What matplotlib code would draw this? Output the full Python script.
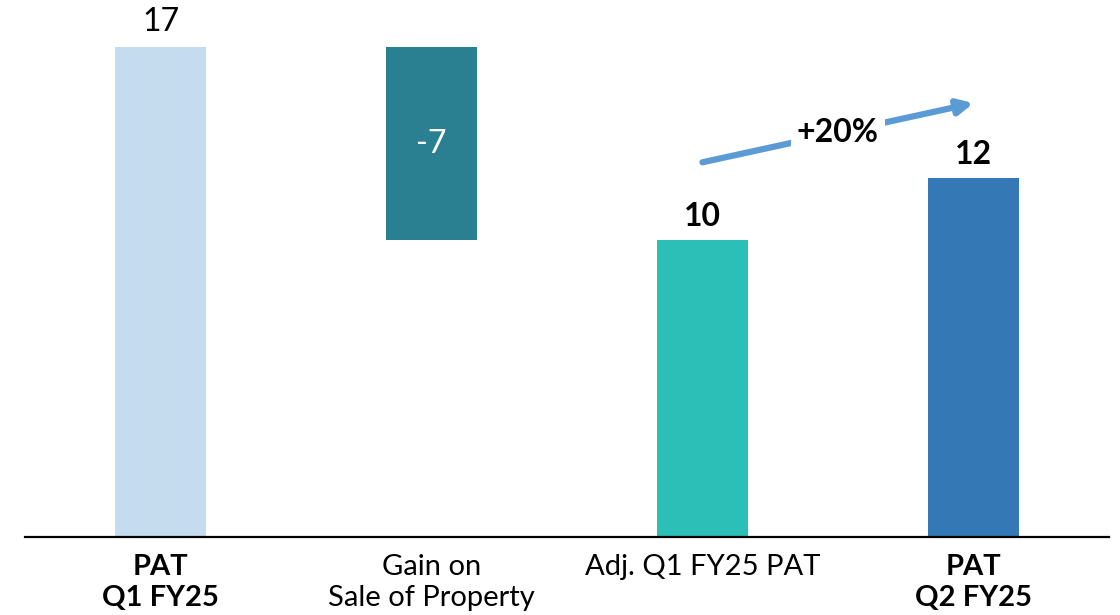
import matplotlib.pyplot as plt

plt.rcParams["font.family"] = ["Lato", "DejaVu Sans"]

# Chart data
categories = ["PAT\nQ1 FY25", "Gain on\nSale of Property", "Adj. Q1 FY25 PAT", "PAT\nQ2 FY25"]
values = [17.0, -6.7, 10.3, 12.45]
value_labels = ["17", "-7", "10", "12"]
growth_label = "+20%"
colors = ["#C5DCEE", "#2A8090", "#2BBFB8", "#3478B6"]
bold_cats = [True, False, False, True]

fig = plt.figure(figsize=(11.2, 6.15), dpi=100)
ax = fig.add_axes([25 / 1120, 78 / 615, 1084 / 1120, 537 / 615])

# waterfall: first and last bars from zero, the adjustment floats, adjusted total from zero
x = list(range(len(categories)))
bottoms = [0, values[0] + values[1], 0, 0]
heights = [values[0], -values[1], values[2], values[3]]
ax.bar(x, heights, bottom=bottoms, width=0.336, color=colors, zorder=2)

# value labels
ax.text(x[0], values[0] + 0.35, value_labels[0], ha="center", va="bottom", fontsize=23)
ax.text(x[1], values[0] + values[1] / 2, value_labels[1], ha="center", va="center",
        fontsize=23, color="white")
ax.text(x[2], values[2] + 0.3, value_labels[2], ha="center", va="bottom", fontsize=23,
        fontweight="bold")
ax.text(x[3], values[3] + 0.3, value_labels[3], ha="center", va="bottom", fontsize=23,
        fontweight="bold")

# growth arrow between adjusted PAT and Q2 PAT
y0 = values[2] + 2.7
y1 = values[3] + 2.6
ax.annotate("", xy=(x[3], y1), xytext=(x[2], y0),
            arrowprops=dict(arrowstyle="-|>,head_length=0.9,head_width=0.45",
                            color="#5B9BD5", lw=4.5, shrinkA=0, shrinkB=0), zorder=3)
ax.text((x[2] + x[3]) / 2, (y0 + y1) / 2, growth_label, ha="center", va="center",
        fontsize=23, fontweight="bold", zorder=4,
        bbox=dict(boxstyle="square,pad=0.2", facecolor="white", edgecolor="none"))

ax.set_xlim(-0.5, 3.5)
ax.set_ylim(0, 18.63)
ax.set_xticks(x)
ax.set_xticklabels(categories, fontsize=21, linespacing=1.25)
for lbl, b in zip(ax.get_xticklabels(), bold_cats):
    lbl.set_fontweight("bold" if b else "normal")
ax.tick_params(axis="x", length=0, pad=12)
ax.set_yticks([])
for s in ["top", "right", "left"]:
    ax.spines[s].set_visible(False)
ax.spines["bottom"].set_linewidth(1.6)
ax.spines["bottom"].set_color("black")
ax.patch.set_alpha(0)

fig.savefig("out.png", dpi=100)
